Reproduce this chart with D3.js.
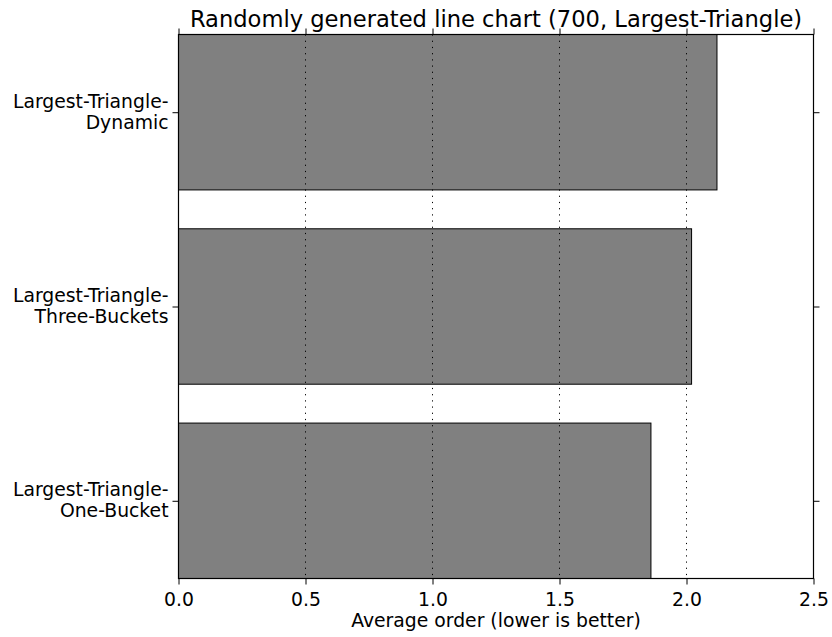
<!DOCTYPE html>
<html>
<head>
<meta charset="utf-8">
<script src="https://cdn.jsdelivr.net/npm/d3@7"></script>
<style>
body { margin: 0; background: #fff; }
svg { font-family: "DejaVu Sans", sans-serif; }
</style>
</head>
<body>
<svg width="832" height="637"></svg>
<script>
// data, bottom bar first
var categories = ["Largest-Triangle-\nOne-Bucket", "Largest-Triangle-\nThree-Buckets", "Largest-Triangle-\nDynamic"];
var values = [1.86, 2.02, 2.12];
var xTicks = [0, 0.5, 1.0, 1.5, 2.0, 2.5];
var title = "Randomly generated line chart (700, Largest-Triangle)";
var xLabel = "Average order (lower is better)";

var svg = d3.select("svg"),
    plotLeft = 178.5, plotRight = 813.5, plotTop = 34.5, plotBottom = 578.5,
    fontSize = "18.8px";

var xScale = d3.scaleLinear().domain([0, 2.5]).range([plotLeft, plotRight]);
var yScale = d3.scaleLinear().domain([-0.4, 2.4]).range([plotBottom, plotTop]);

// bars
svg.selectAll(".bar")
  .data(values)
  .enter().append("rect")
  .attr("class", "bar")
  .attr("x", xScale(0))
  .attr("y", function(d, i) { return yScale(i + 0.4); })
  .attr("width", function(d) { return xScale(d) - xScale(0); })
  .attr("height", function(d, i) { return yScale(i - 0.4) - yScale(i + 0.4); })
  .style("fill", "#808080")
  .style("stroke", "#000")
  .style("stroke-width", 1);

// dotted grid, drawn over the bars
svg.selectAll(".grid")
  .data(xTicks)
  .enter().append("line")
  .attr("x1", function(d) { return xScale(d); })
  .attr("x2", function(d) { return xScale(d); })
  .attr("y1", plotTop)
  .attr("y2", plotBottom)
  .style("stroke", "#000")
  .style("stroke-width", 1)
  .style("stroke-dasharray", "1.2,5");

// frame
svg.append("rect")
  .attr("x", plotLeft).attr("y", plotTop)
  .attr("width", plotRight - plotLeft).attr("height", plotBottom - plotTop)
  .style("fill", "none").style("stroke", "#000").style("stroke-width", 1.2);

// bottom axis
var xAxis = svg.append("g")
  .attr("transform", "translate(0," + plotBottom + ")")
  .call(d3.axisBottom(xScale).tickValues(xTicks).tickFormat(d3.format(".1f")).tickSize(6).tickPadding(8));
xAxis.select(".domain").remove();
xAxis.selectAll("text").attr("font-size", fontSize).attr("font-family", "DejaVu Sans").attr("fill", "#000");

// top ticks
var xTop = svg.append("g")
  .attr("transform", "translate(0," + plotTop + ")")
  .call(d3.axisTop(xScale).tickValues(xTicks).tickFormat("").tickSize(6));
xTop.select(".domain").remove();

// left axis with two-line labels
var yLeft = svg.append("g")
  .attr("transform", "translate(" + plotLeft + ",0)")
  .call(d3.axisLeft(yScale).tickValues(d3.range(categories.length)).tickFormat("").tickSize(6));
yLeft.select(".domain").remove();
yLeft.selectAll(".tick").each(function(d) {
  var lines = categories[d].split("\n");
  var t = d3.select(this).append("text")
    .attr("text-anchor", "end")
    .attr("font-size", fontSize)
    .attr("font-family", "DejaVu Sans")
    .attr("fill", "#000");
  lines.forEach(function(s, k) {
    t.append("tspan").attr("x", -10).attr("y", -5 + k * 21).text(s);
  });
});

// right ticks
var yRight = svg.append("g")
  .attr("transform", "translate(" + plotRight + ",0)")
  .call(d3.axisRight(yScale).tickValues(d3.range(categories.length)).tickFormat("").tickSize(6));
yRight.select(".domain").remove();

svg.append("text")
  .attr("x", (plotLeft + plotRight) / 2)
  .attr("y", 26.5)
  .attr("text-anchor", "middle")
  .attr("font-size", "22.6px")
  .text(title);

svg.append("text")
  .attr("x", (plotLeft + plotRight) / 2)
  .attr("y", 627)
  .attr("text-anchor", "middle")
  .attr("font-size", fontSize)
  .text(xLabel);
</script>
</body>
</html>
